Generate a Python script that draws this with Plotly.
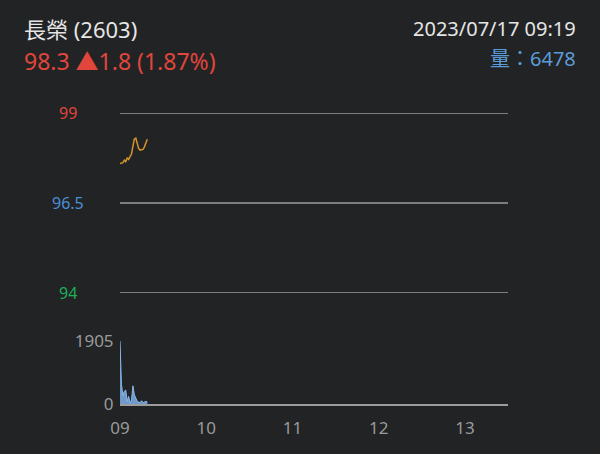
import plotly.graph_objects as go

# ---- data ----
times = ["2023-07-17 09:%02d" % m for m in range(20)]
prices = [97.60, 97.61, 97.62, 97.69, 97.65, 97.76, 97.71, 97.79, 97.86, 98.08,
          98.28, 98.30, 98.14, 98.01, 97.97, 97.97, 97.99, 98.06, 98.19, 98.27]
volumes = [1905, 600, 250, 380, 420, 80, 230, 40, 120, 550,
           280, 170, 80, 60, 40, 100, 40, 60, 80, 60]
price_ticks = [99, 96.5, 94]
price_tick_text = ["99", "96.5", "94"]
price_tick_colors = ["#e0463c", "#4a8fd8", "#1fae5a"]
vol_ticks = [0, 1905]
vol_tick_text = ["0", "1905"]
x_ticks = ["2023-07-17 09:00", "2023-07-17 10:00", "2023-07-17 11:00",
           "2023-07-17 12:00", "2023-07-17 13:00"]
x_tick_text = ["09", "10", "11", "12", "13"]
x_range = ["2023-07-17 09:00", "2023-07-17 13:30"]

title_name = "長榮 (2603)"
title_quote = "98.3 ▲1.8 (1.87%)"
title_time = "2023/07/17 09:19"
title_vol = "量：6478"

BG = "#222324"
GRID = "#9c9c9c"
FONT = "Noto Sans, Noto Sans CJK TC, sans-serif"

fig = go.Figure()
fig.add_trace(go.Scatter(x=times, y=prices, mode="lines",
                         line=dict(color="#d4952a", width=1.5),
                         xaxis="x", yaxis="y", showlegend=False))
fig.add_trace(go.Scatter(x=times, y=volumes, mode="lines", fill="tozeroy",
                         line=dict(color="#8ab8ec", width=1),
                         fillcolor="rgba(125,175,232,0.85)",
                         xaxis="x", yaxis="y2", showlegend=False))

annotations = []
shapes = []
for v, t, c in zip(price_ticks, price_tick_text, price_tick_colors):
    annotations.append(dict(x=-0.134, xref="paper", y=v, yref="y", text=t,
                            showarrow=False, xanchor="center", yanchor="middle",
                            font=dict(size=16, color=c, family=FONT)))
    shapes.append(dict(type="line", xref="paper", x0=0, x1=1, yref="y",
                       y0=v, y1=v, line=dict(color=GRID, width=1.5)))

annotations += [
    dict(x=-0.253, xref="paper", y=1.289, yref="paper", text=title_name,
         showarrow=False, xanchor="left", yanchor="middle",
         font=dict(size=22, color="#e6e6e6", family=FONT)),
    dict(x=-0.253, xref="paper", y=1.178, yref="paper", text=title_quote,
         showarrow=False, xanchor="left", yanchor="middle",
         font=dict(size=23, color="#e0463c", family=FONT)),
    dict(x=1.18, xref="paper", y=1.289, yref="paper", text=title_time,
         showarrow=False, xanchor="right", yanchor="middle",
         font=dict(size=20, color="#e6e6e6", family=FONT)),
    dict(x=1.18, xref="paper", y=1.188, yref="paper", text=title_vol,
         showarrow=False, xanchor="right", yanchor="middle",
         font=dict(size=20, color="#5b9bd8", family=FONT)),
]

fig.update_layout(
    width=600, height=454,
    margin=dict(l=120, r=92, t=113, b=50),
    paper_bgcolor=BG, plot_bgcolor=BG,
    font=dict(family=FONT, color="#999999"),
    annotations=annotations,
    shapes=shapes,
    xaxis=dict(type="date", range=x_range, anchor="y2",
               tickvals=x_ticks, ticktext=x_tick_text,
               tickfont=dict(size=17, color="#9a9a9a"),
               showgrid=False, zeroline=False,
               showline=True, linecolor=GRID, linewidth=1.5,
               ticks="outside", ticklen=8, tickcolor=BG),
    yaxis=dict(domain=[0.3814, 1], range=[94, 99], tickvals=price_ticks,
               showticklabels=False, showgrid=False,
               zeroline=False, fixedrange=True),
    yaxis2=dict(domain=[0, 0.2165], range=[0, 1905], tickvals=vol_ticks,
                ticktext=vol_tick_text, showgrid=False, zeroline=False,
                tickfont=dict(size=17, color="#9a9a9a"),
                ticks="outside", ticklen=2, tickcolor=BG),
)

fig.write_html("out.html")
